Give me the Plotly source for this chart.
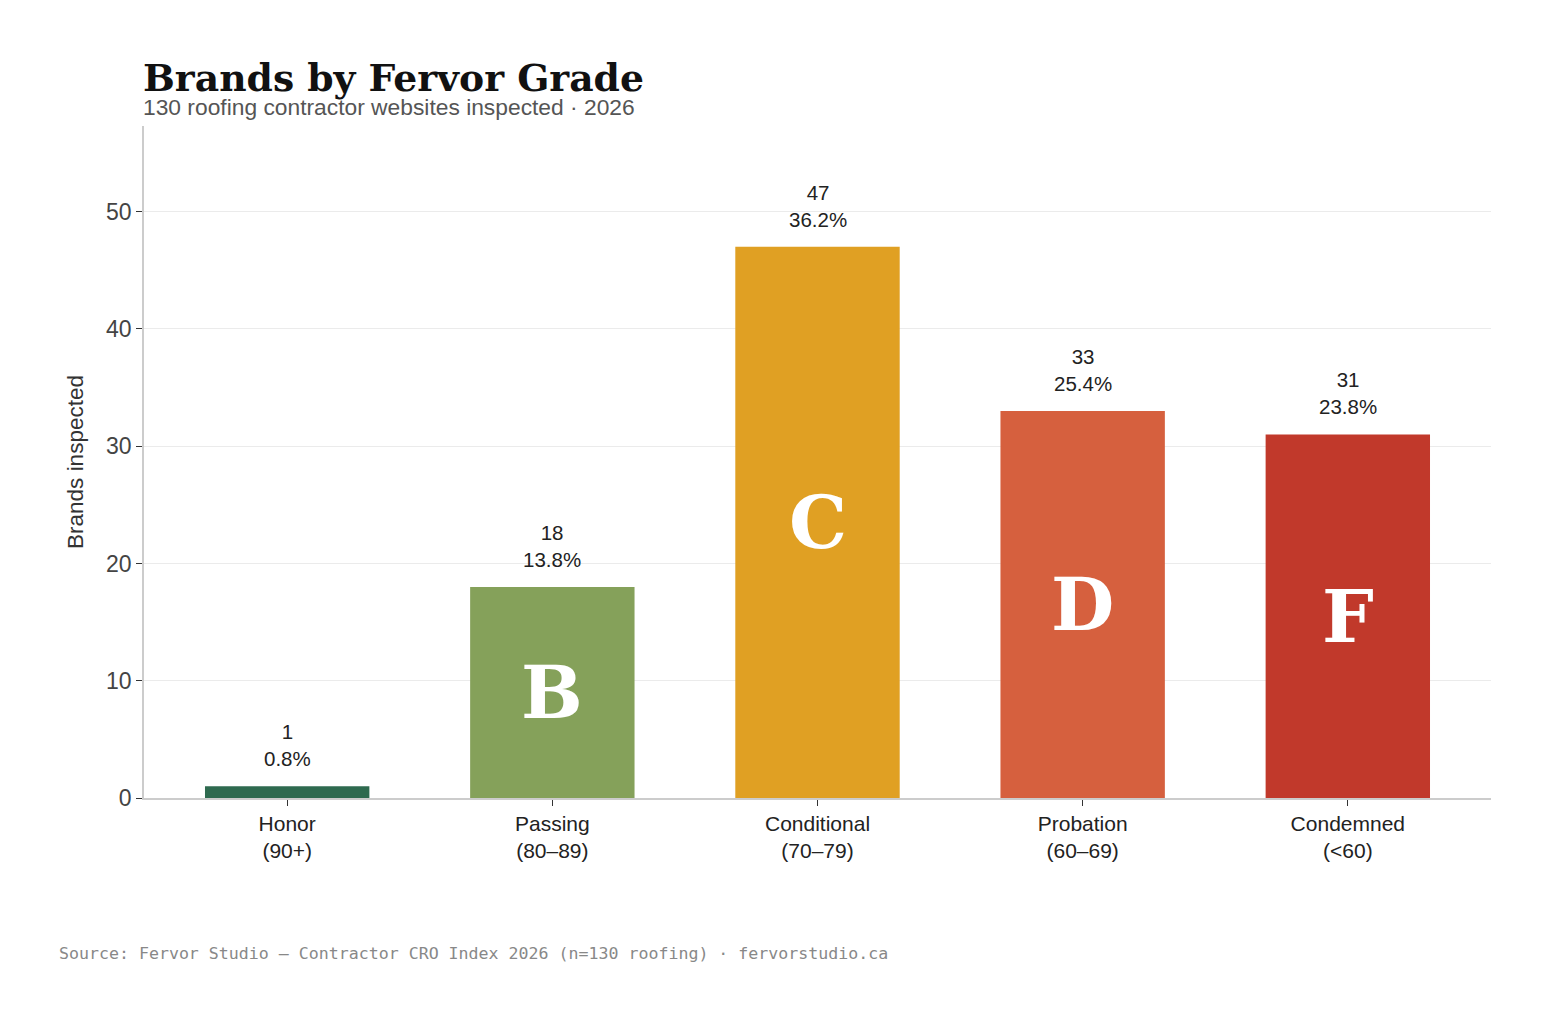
"""Brands by Fervor Grade: bar chart of 130 roofing contractor sites."""

import plotly.graph_objects as go

# grade buckets and counts
categories = ["Honor<br>(90+)", "Passing<br>(80–89)", "Conditional<br>(70–79)",
              "Probation<br>(60–69)", "Condemned<br>(<60)"]
counts = [1, 18, 47, 33, 31]
shares = ["0.8%", "13.8%", "36.2%", "25.4%", "23.8%"]
grades = ["", "B", "C", "D", "F"]
colors = ["#2e6a4f", "#85a15a", "#e0a023", "#d6603e", "#c1392b"]

SANS = "Liberation Sans, Arial, sans-serif"
SERIF = "DejaVu Serif, serif"
MONO = "DejaVu Sans Mono, monospace"

x = list(range(len(categories)))

fig = go.Figure()
fig.add_trace(
    go.Bar(
        x=x,
        y=counts,
        width=0.62,
        marker=dict(color=colors, line=dict(width=0)),
        hoverinfo="skip",
    )
)

annotations = []
for i, (c, s, g) in enumerate(zip(counts, shares, grades)):
    annotations.append(dict(
        x=i, y=c, xref="x", yref="y", text=f"{c}<br>{s}", showarrow=False,
        yanchor="bottom", yshift=14, font=dict(family=SANS, size=20.5, color="#222"),
    ))
    if g:
        annotations.append(dict(
            x=i, y=c / 2, xref="x", yref="y", text=f"<b>{g}</b>", showarrow=False,
            yanchor="middle", font=dict(family=SERIF, size=73, color="white"),
        ))

annotations += [
    dict(x=-0.002, y=1, xref="paper", yref="paper", xanchor="left", yanchor="bottom",
         yshift=24, text="<b>Brands by Fervor Grade</b>", showarrow=False,
         font=dict(family=SERIF, size=37.7, color="#111")),
    dict(x=-0.002, y=1, xref="paper", yref="paper", xanchor="left", yanchor="bottom",
         yshift=4, text="130 roofing contractor websites inspected · 2026", showarrow=False,
         font=dict(family=SANS, size=22.8, color="#555")),
    dict(x=-0.0646, y=-0.2307, xref="paper", yref="paper", xanchor="left", yanchor="middle",
         text="Source: Fervor Studio — Contractor CRO Index 2026 (n=130 roofing) · fervorstudio.ca",
         showarrow=False, font=dict(family=MONO, size=16.6, color="#888")),
]

fig.update_layout(
    width=1534,
    height=1007,
    paper_bgcolor="white",
    plot_bgcolor="white",
    margin=dict(l=136, r=51, t=118, b=217),
    showlegend=False,
    annotations=annotations,
    xaxis=dict(
        range=[-0.54, 4.54],
        tickmode="array",
        tickvals=x,
        ticktext=categories,
        ticks="outside",
        ticklen=6,
        tickcolor="#333",
        showline=True,
        linecolor="#cccccc",
        linewidth=1.5,
        showgrid=False,
        zeroline=False,
        tickfont=dict(family=SANS, size=21, color="#222"),
    ),
    yaxis=dict(
        range=[0, 57.3],
        tickvals=[0, 10, 20, 30, 40, 50],
        ticks="outside",
        ticklen=6,
        tickcolor="#333",
        showline=True,
        linecolor="#cccccc",
        linewidth=1.5,
        showgrid=True,
        gridcolor="#ebebeb",
        zeroline=False,
        tickfont=dict(family=SANS, size=23, color="#444"),
        title=dict(text="Brands inspected", standoff=16,
                   font=dict(family=SANS, size=22.5, color="#333")),
    ),
)

fig.write_html("out.html")
